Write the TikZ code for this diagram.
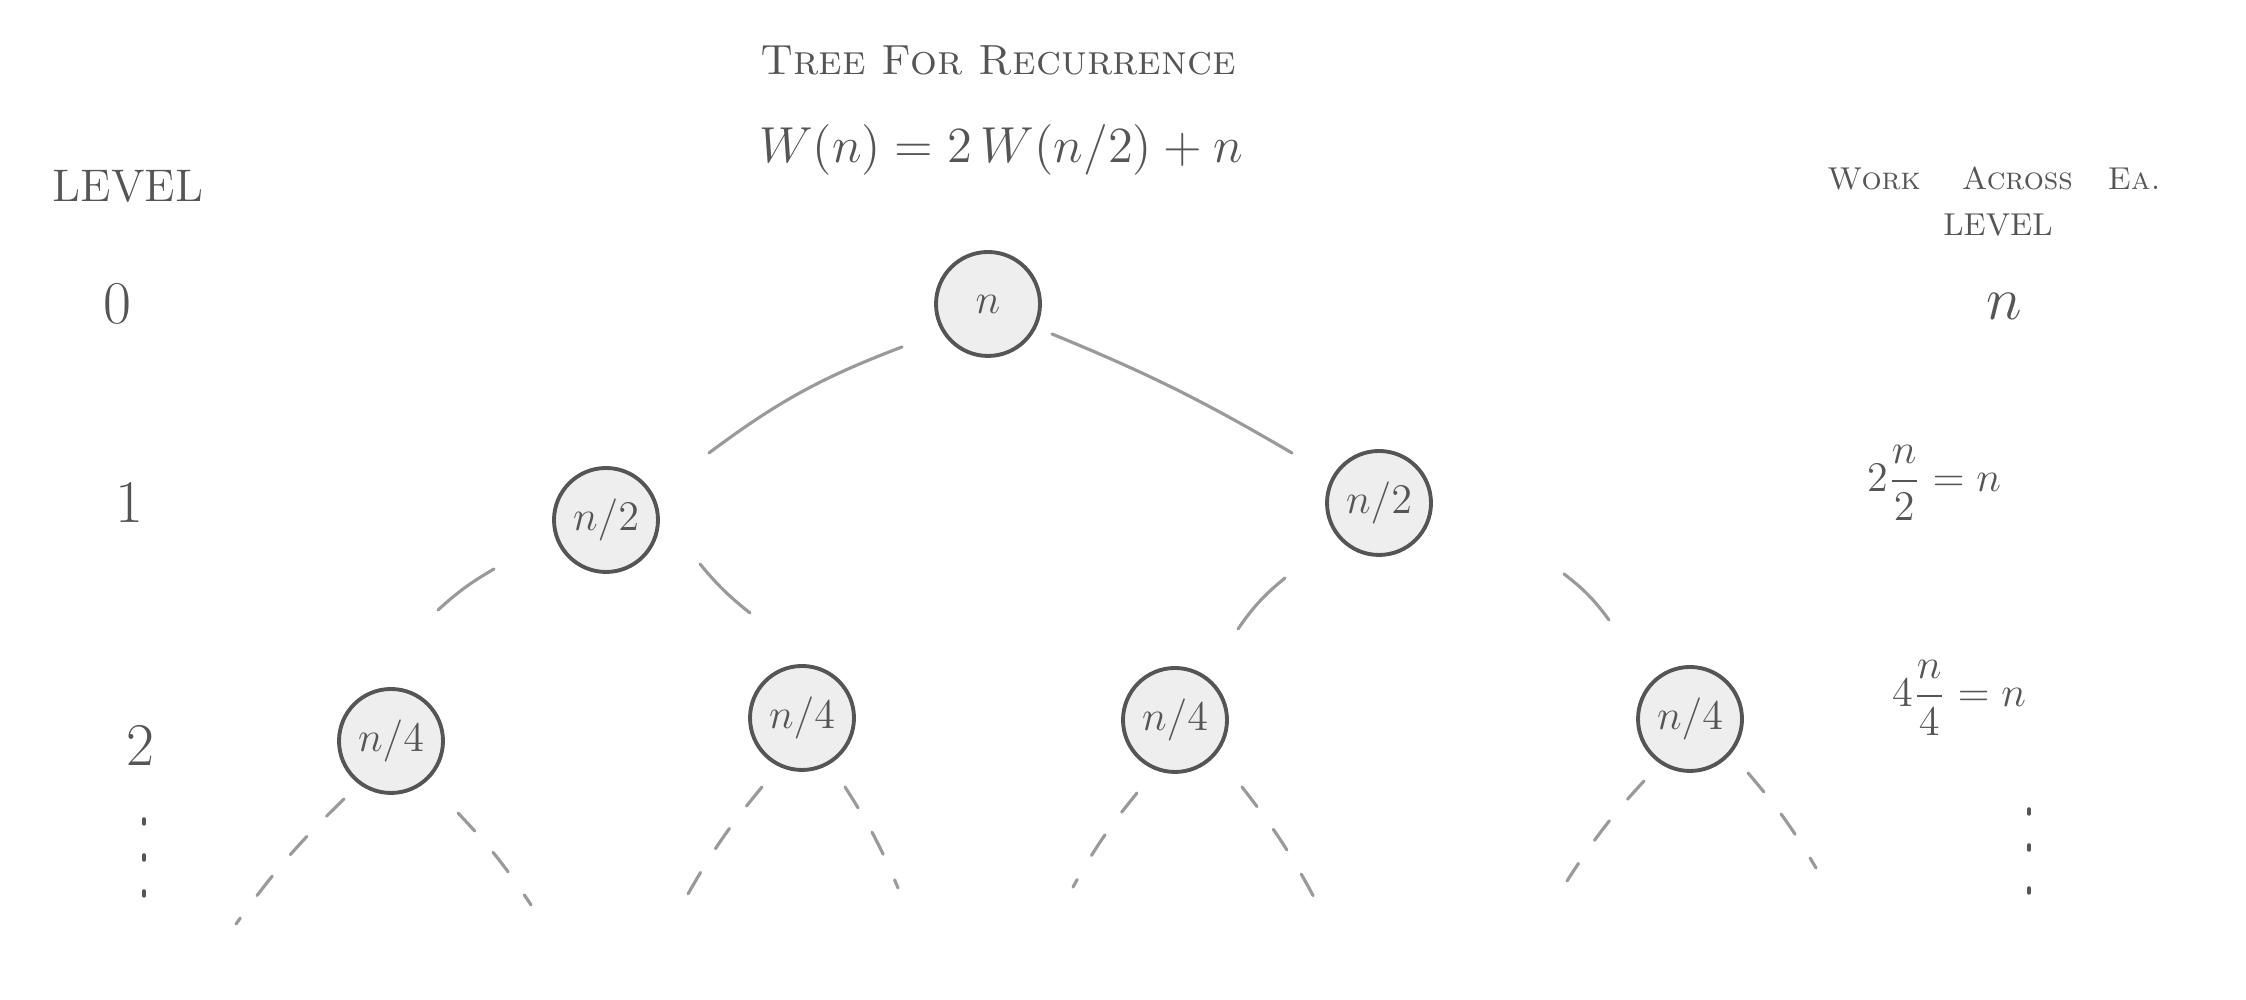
\documentclass[tikz,border=0pt]{standalone}
\usepackage{fontspec}
\usepackage{amsmath}
\usepackage{xcolor}
\usepackage{tikz}
\usetikzlibrary{calc}
\definecolor{ink}{HTML}{555555}
\definecolor{twig}{HTML}{9A9A9A}
\definecolor{bubble}{HTML}{EEEEEE}
\tikzset{
  tnode/.style={circle,draw=ink,fill=bubble,line width=1.1pt,minimum size=1.04cm,inner sep=0pt,text=ink,font=\large},
  branch/.style={twig,line width=0.9pt,line cap=round},
  stub/.style={twig,line width=0.9pt,line cap=round,dash pattern=on 7pt off 8pt},
  hand/.style={text=ink,inner sep=0pt},
}

\begin{document}
\begin{tikzpicture}
\useasboundingbox (0,0) rectangle (22.46,10);
\node[hand,font=\large\scshape] (title) at (9.98,9.39) {Tree For Recurrence};
\node[hand,font=\Large] (rec) at (10.01,8.50) {$W(n) = 2\,W(n/2) + n$};
\node[hand,font=\fontsize{13}{15}\selectfont] (lvhead) at (1.28,8.14) {LEVEL};
\node[hand,font=\small\scshape] (workhead) at (19.94,8.21) {Work\hspace{1.3em}Across\hspace{1.1em}Ea.};
\node[hand,font=\small] (workhead2) at (19.98,7.75) {LEVEL};
\node[hand,font=\LARGE] (lv0) at (1.17,6.96) {0};
\node[hand,font=\LARGE] (lv1) at (1.29,4.98) {1};
\node[hand,font=\LARGE] (lv2) at (1.40,2.55) {2};
\node[hand,font=\LARGE] (work0) at (20.04,6.94) {$n$};
\node[hand,font=\large] (work1) at (19.34,5.17) {$2\dfrac{n}{2} = n$};
\node[hand,font=\large] (work2) at (19.59,3.02) {$4\dfrac{n}{4} = n$};
\foreach \y in {1.81,1.45,1.09} \draw[ink,line width=1pt,line cap=round] (1.44,\y) -- ++(0,-0.05);
\foreach \y in {1.91,1.55,1.12} \draw[ink,line width=1pt,line cap=round] (20.29,\y) -- ++(0,-0.05);

\node[tnode] (root) at (9.88,6.96) {$n$};
\node[tnode] (A) at (6.06,4.80) {$n/2$};
\node[tnode] (B) at (13.79,4.97) {$n/2$};
\node[tnode] (C) at (3.91,2.59) {$n/4$};
\node[tnode] (D) at (8.02,2.82) {$n/4$};
\node[tnode] (E) at (11.75,2.80) {$n/4$};
\node[tnode] (F) at (16.90,2.81) {$n/4$};

\draw[branch] ($(root)+(-0.86,-0.43)$) to[bend right=8] ($(A)+(1.03,0.67)$);
\draw[branch] ($(root)+(0.64,-0.30)$) to[bend left=4] ($(B)+(-0.87,0.50)$);
\draw[branch] ($(A)+(-1.12,-0.49)$) to[bend right=6] ($(C)+(0.47,1.31)$);
\draw[branch] ($(A)+(0.94,-0.44)$) to[bend right=6] ($(D)+(-0.52,1.05)$);
\draw[branch] ($(B)+(-0.94,-0.75)$) to[bend right=8] ($(E)+(0.63,0.91)$);
\draw[branch] ($(B)+(1.85,-0.71)$) to[bend left=8] ($(F)+(-0.81,0.99)$);

\coordinate (C-l) at (2.36,0.76);
\coordinate (C-r) at (5.31,0.95);
\coordinate (D-l) at (6.88,1.06);
\coordinate (D-r) at (8.98,1.12);
\coordinate (E-l) at (10.73,1.13);
\coordinate (E-r) at (13.17,0.97);
\coordinate (F-l) at (15.67,1.19);
\coordinate (F-r) at (18.16,1.32);
\draw[stub] ($(C)+(-0.47,-0.58)$) to[bend right=5] (C-l);
\draw[stub] ($(C)+(0.67,-0.72)$) to[bend left=5] (C-r);
\draw[stub] ($(D)+(-0.40,-0.69)$) to[bend right=5] (D-l);
\draw[stub] ($(D)+(0.43,-0.69)$) to[bend left=5] (D-r);
\draw[stub] ($(E)+(-0.38,-0.73)$) to[bend right=5] (E-l);
\draw[stub] ($(E)+(0.67,-0.67)$) to[bend left=5] (E-r);
\draw[stub] ($(F)+(-0.46,-0.62)$) to[bend right=5] (F-l);
\draw[stub] ($(F)+(0.58,-0.54)$) to[bend left=5] (F-r);
\end{tikzpicture}
\end{document}
